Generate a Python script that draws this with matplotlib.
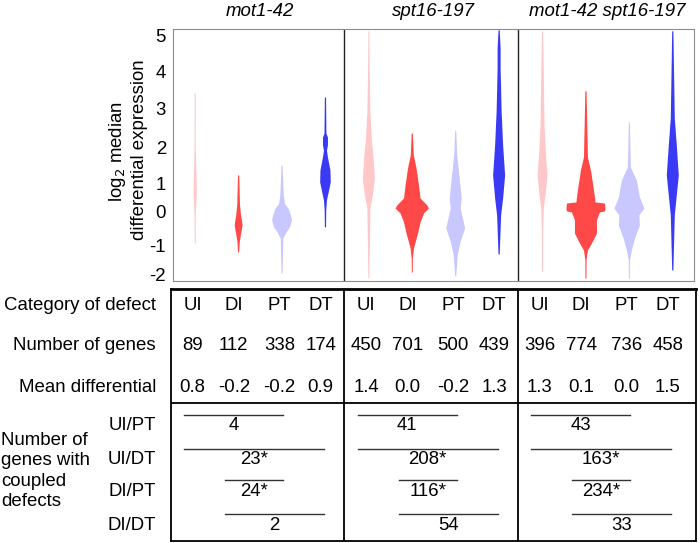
import numpy as np
import matplotlib.pyplot as plt

plt.rcParams['font.family'] = ['Liberation Sans', 'DejaVu Sans']

# strains (panels) and defect categories
strains = ['mot1-42', 'spt16-197', 'mot1-42 spt16-197']
cats = ['UI', 'DI', 'PT', 'DT']
cat_colors = ['#ffc8c8', '#ff4848', '#c8c8ff', '#3a3af5']

# table values
n_genes = [[89, 112, 338, 174], [450, 701, 500, 439], [396, 774, 736, 458]]
mean_diff = [['0.8', '-0.2', '-0.2', '0.9'],
             ['1.4', '0.0', '-0.2', '1.3'],
             ['1.3', '0.1', '0.0', '1.5']]
pairs = ['UI/PT', 'UI/DT', 'DI/PT', 'DI/DT']
coupled = [['4', '23*', '24*', '2'],
           ['41', '208*', '116*', '54'],
           ['43', '163*', '234*', '33']]

# violin outlines: log2 value and half width (px)
mot1_y = [[3.43, 2.0, 0.75, -0.09, -0.94],
          [1.25, 0.25, -0.1, -0.39, -0.65, -0.88, -1.24],
          [1.53, 0.61, 0.3, 0.14, -0.05, -0.24, -0.45, -0.58, -0.79, -1.97],
          [3.32, 2.38, 2.28, 2.08, 1.94, 1.75, 1.39, 1.06, 0.68, 0.43, 0.07, -0.45]]
mot1_w = [[0.5, 0.6, 1.6, 0.6, 0.5],
          [0.6, 1.4, 2.5, 4.0, 2.5, 1.2, 0.5],
          [0.5, 1.7, 3.0, 6.5, 8.5, 10.0, 8.0, 5.0, 1.3, 0.5],
          [0.6, 1.0, 2.5, 2.5, 1.5, 2.5, 5.0, 5.3, 3.0, 1.5, 0.8, 0.6]]
spt16_y = [[5.14, 4.03, 2.95, 2.2, 1.81, 1.17, 0.61, 0.14, -2.14],
           [2.38, 1.81, 1.44, 0.97, 0.5, 0.25, 0.14, -0.03, -0.3, -0.61, -0.91, -1.1, -1.45, -1.93],
           [2.46, 1.81, 1.17, 0.5, 0.14, -0.48, -0.88, -1.34, -2.07],
           [5.17, 4.67, 4.11, 2.95, 2.08, 1.25, 0.5, -0.09, -1.31]]
spt16_w = [[0.5, 0.8, 1.5, 3.0, 4.5, 6.0, 4.0, 1.5, 0.5],
           [0.6, 1.5, 4.3, 6.7, 8.3, 15.0, 16.7, 11.7, 8.3, 6.0, 3.3, 1.7, 0.6, 0.5],
           [0.5, 1.5, 4.0, 6.0, 5.0, 9.5, 5.0, 2.0, 0.5],
           [0.6, 1.5, 1.5, 2.5, 4.0, 6.0, 4.0, 2.0, 0.6]]
double_y = [[5.14, 3.92, 2.59, 1.81, 1.25, 0.61, 0.14, -0.58, -1.9],
            [3.49, 1.75, 1.39, 0.92, 0.54, 0.36, 0.32, 0.14, 0.04, 0.0, -0.24, -0.64, -0.94, -1.17, -1.5, -2.14],
            [2.67, 1.47, 1.11, 0.54, 0.14, -0.09, -0.4, -0.76, -1.17, -1.52, -2.14],
            [5.14, 2.77, 2.08, 1.25, 0.61, -0.09, -1.86]]
double_w = [[0.5, 1.3, 2.0, 3.5, 5.0, 3.0, 1.3, 0.6, 0.5],
            [0.6, 2.0, 5.0, 7.5, 9.0, 9.5, 19.0, 19.5, 19.0, 14.0, 11.0, 11.0, 6.0, 2.0, 0.6, 0.5],
            [0.5, 1.5, 7.5, 10.5, 15.0, 10.0, 10.5, 6.0, 2.5, 0.6, 0.5],
            [0.6, 2.0, 4.0, 6.0, 4.0, 2.0, 0.6]]
violin_y = [mot1_y, spt16_y, double_y]
violin_w = [mot1_w, spt16_w, double_w]

yticks = [-2, -1, 0, 1, 2, 3, 4, 5]

# the original y axis is not evenly spaced; mimic it with a piecewise scale
scale_v = np.array([-3, -2, -1, 0, 1, 2, 3, 4, 5, 6])
scale_p = -np.array([303, 274, 245, 212, 184, 148, 109, 72, 36, 0], dtype=float)
def fwd(v):
    return np.interp(v, scale_v, scale_p)
def inv(p):
    return np.interp(p, scale_p, scale_v)

fig = plt.figure(figsize=(7, 5.43), dpi=100)
FS = 13.4

# ---------------- violins
ax = fig.add_axes([173 / 700, 1 - 281 / 543, 521 / 700, 252 / 543])
ax.set_yscale('function', functions=(fwd, inv))
px = 521 / 12  # pixels per slot
for p in range(3):
    for c in range(4):
        y = np.array(violin_y[p][c])
        w = np.array(violin_w[p][c]) / px
        xc = p * 4 + c + 0.5
        ax.fill_betweenx(y, xc - w, xc + w, color=cat_colors[c], lw=0)
    ax.text(p * 4 + 2, 1.07, strains[p], transform=ax.get_xaxis_transform(),
            ha='center', va='center', fontsize=FS, style='italic')
for d in [3.94, 7.95]:
    ax.axvline(d, color='#222222', lw=1)
ax.set_xlim(0, 12)
ax.set_ylim(-2.24, 5.19)
ax.set_yticks(yticks)
ax.set_yticklabels([str(t) for t in yticks], fontsize=FS)
ax.yaxis.set_minor_locator(plt.NullLocator())
ax.tick_params(axis='y', length=0, pad=5)
ax.set_xticks([])
for s in ax.spines.values():
    s.set_color('#8c8c8c')
fig.text(117 / 700, 1 - 152 / 543, 'log$_2$ median', rotation=90,
         ha='center', va='center', fontsize=FS)
fig.text(140 / 700, 1 - 150 / 543, 'differential expression', rotation=90,
         ha='center', va='center', fontsize=FS)

# ---------------- table
tb = fig.add_axes([171 / 700, 2 / 543, 525 / 700, 252 / 543])
tb.set_xlim(-0.046, 12.046)
tb.set_ylim(252, 0)
tb.set_xticks([])
tb.set_yticks([])
for s in tb.spines.values():
    s.set_color('black')
    s.set_linewidth(1.3)
tb.spines['top'].set_linewidth(2)
tb.axhline(114, color='black', lw=1.3)
for d in [3.94, 7.95]:
    tb.axvline(d, color='black', lw=1.3)

col_off = [0.45, 1.4, 2.45, 3.4]
row_y = [17, 57, 98]
pair_y = [137, 171, 202, 236]
pair_cols = [(0, 2), (0, 3), (1, 2), (1, 3)]
for p in range(3):
    for c in range(4):
        x = p * 4 + col_off[c]
        tb.text(x, row_y[0], cats[c], ha='center', va='center', fontsize=FS)
        tb.text(x, row_y[1], str(n_genes[p][c]), ha='center', va='center', fontsize=FS)
        tb.text(x, row_y[2], mean_diff[p][c], ha='center', va='center', fontsize=FS)
    for k, (a, b) in enumerate(pair_cols):
        x0 = p * 4 + col_off[a] - 0.2
        x1 = p * 4 + col_off[b] + 0.08
        tb.plot([x0, x1], [pair_y[k] - 11, pair_y[k] - 11], color='#333333', lw=1)
        tb.text((x0 + x1) / 2, pair_y[k], coupled[p][k], ha='center', va='center', fontsize=FS)

row_names = ['Category of defect', 'Number of genes', 'Mean differential']
for k, name in enumerate(row_names):
    fig.text(156 / 700, 1 - (289 + row_y[k]) / 543, name, ha='right', va='center', fontsize=FS)
for k, name in enumerate(pairs):
    fig.text(156 / 700, 1 - (289 + pair_y[k]) / 543, name, ha='right', va='center', fontsize=FS)
fig.text(1 / 700, 1 - 471 / 543, 'Number of\ngenes with\ncoupled\ndefects',
         ha='left', va='center', fontsize=FS, linespacing=1.25)

fig.savefig('out.png', dpi=100)
